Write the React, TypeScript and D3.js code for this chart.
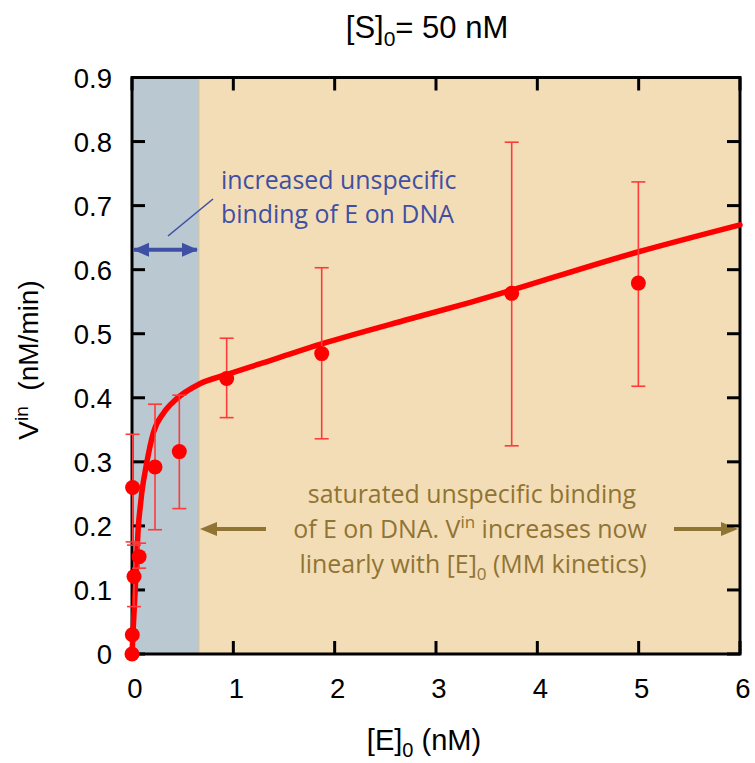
import React from 'react';
import * as d3 from 'd3';

const W = 755;
const H = 763;

const X_TICKS = [0, 1, 2, 3, 4, 5, 6];
const Y_TICKS = [0, 0.1, 0.2, 0.3, 0.4, 0.5, 0.6, 0.7, 0.8, 0.9];
const Y_TICK_LABELS = ['0', '0.1', '0.2', '0.3', '0.4', '0.5', '0.6', '0.7', '0.8', '0.9'];

// measured points
const E0 = [0, 0.003, 0.006, 0.02, 0.07, 0.227, 0.467, 0.934, 1.872, 3.747, 4.997];
const VIN = [0, 0.03, 0.26, 0.121, 0.152, 0.292, 0.316, 0.43, 0.469, 0.563, 0.579];
const ERR_LO = [null, null, 0.175, 0.074, 0.134, 0.194, 0.227, 0.369, 0.336, 0.325, 0.418];
const ERR_HI = [null, null, 0.343, 0.17, 0.173, 0.39, 0.404, 0.493, 0.603, 0.799, 0.737];

// fitted curve
const FIT_E = [0, 0.013, 0.03, 0.046, 0.063, 0.08, 0.096, 0.145, 0.21, 0.31, 0.43, 0.67, 0.93, 1.4, 1.87, 2.74, 3.34, 5.0, 6.0];
const FIT_V = [0, 0.043, 0.095, 0.147, 0.2, 0.228, 0.251, 0.298, 0.345, 0.376, 0.397, 0.422, 0.436, 0.46, 0.484, 0.523, 0.549, 0.628, 0.67];

const REGION_SPLIT = 0.661;
const ARROW_V = 0.631;

const ANN_FONT = '"Open Sans", "Noto Sans", sans-serif';
const AX_FONT = '"Liberation Sans", Arial, sans-serif';

export default function App() {
  const x = d3.scaleLinear().domain([0, 6]).range([132, 740]);
  const y = d3.scaleLinear().domain([0, 0.9]).range([654, 77.5]);
  const [x0, x1] = x.range();
  const [yb, yt] = y.range();

  const fitData = FIT_E.map((e, i) => [e, FIT_V[i]] as [number, number]);
  const line = d3
    .line<[number, number]>()
    .x((d) => x(d[0]))
    .y((d) => y(d[1]))
    .curve(d3.curveMonotoneX);

  const blue = '#3f4fa3';
  const brown = '#8f7434';
  const red = '#ff0000';
  const errRed = '#ff3a3a';
  const tick = 13;

  const ay = y(ARROW_V);
  const xs = x(REGION_SPLIT);

  const brownArrowY = 529;

  return (
    <svg width={W} height={H} style={{ position: 'absolute', left: 0, top: 0, background: '#fff' }}>
      {/* background regions */}
      <rect x={x0} y={yt} width={xs - x0} height={yb - yt} fill="#b9c8d1" />
      <rect x={xs} y={yt} width={x1 - xs} height={yb - yt} fill="#f3ddb6" />
      <line x1={xs} x2={xs} y1={yt} y2={yb} stroke="#d9c39a" strokeWidth={1} />

      {/* blue annotation */}
      <line x1={x0 + 2} x2={xs - 2} y1={ay} y2={ay} stroke={blue} strokeWidth={4} />
      <polygon points={`${x0 + 1},${ay} ${x0 + 17},${ay - 7} ${x0 + 17},${ay + 7}`} fill={blue} />
      <polygon points={`${xs - 1},${ay} ${xs - 17},${ay - 7} ${xs - 17},${ay + 7}`} fill={blue} />
      <line x1={168} y1={236} x2={213} y2={199} stroke={blue} strokeWidth={1.6} />
      <text x={221} y={189} fontFamily={ANN_FONT} fontSize={24.9} fill={blue}>
        increased unspecific
      </text>
      <text x={221} y={222.5} fontFamily={ANN_FONT} fontSize={24.9} fill={blue}>
        binding of E on DNA
      </text>

      {/* brown annotation */}
      <text x={472} y={503} textAnchor="middle" fontFamily={ANN_FONT} fontSize={24.9} fill={brown}>
        saturated unspecific binding
      </text>
      <text x={470} y={538} textAnchor="middle" fontFamily={ANN_FONT} fontSize={24.9} fill={brown}>
        of E on DNA. V
        <tspan dy={-10} fontSize={17}>in</tspan>
        <tspan dy={10}> increases now</tspan>
      </text>
      <text x={473} y={573} textAnchor="middle" fontFamily={ANN_FONT} fontSize={24.9} fill={brown}>
        linearly with [E]
        <tspan dy={7} fontSize={17}>0</tspan>
        <tspan dy={-7}> (MM kinetics)</tspan>
      </text>
      <line x1={xs + 12} x2={266} y1={brownArrowY} y2={brownArrowY} stroke={brown} strokeWidth={4} />
      <polygon
        points={`${xs + 1},${brownArrowY} ${xs + 18},${brownArrowY - 7} ${xs + 18},${brownArrowY + 7}`}
        fill={brown}
      />
      <line x1={674} x2={x1 - 12} y1={brownArrowY} y2={brownArrowY} stroke={brown} strokeWidth={4} />
      <polygon
        points={`${x1 - 2},${brownArrowY} ${x1 - 19},${brownArrowY - 7} ${x1 - 19},${brownArrowY + 7}`}
        fill={brown}
      />

      {/* frame and ticks */}
      <rect x={x0} y={yt} width={x1 - x0} height={yb - yt} fill="none" stroke="#000" strokeWidth={3} />
      {Y_TICKS.map((t) => (
        <g key={'y' + t}>
          <line x1={x0} x2={x0 + tick} y1={y(t)} y2={y(t)} stroke="#000" strokeWidth={3} />
          <line x1={x1} x2={x1 - tick} y1={y(t)} y2={y(t)} stroke="#000" strokeWidth={3} />
        </g>
      ))}
      {X_TICKS.map((t) => (
        <g key={'x' + t}>
          <line x1={x(t)} x2={x(t)} y1={yb} y2={yb - tick} stroke="#000" strokeWidth={3} />
          <line x1={x(t)} x2={x(t)} y1={yt} y2={yt + tick} stroke="#000" strokeWidth={3} />
        </g>
      ))}
      {Y_TICKS.map((t, i) => (
        <text
          key={'yl' + t}
          x={112}
          y={y(t) + 10}
          textAnchor="end"
          fontFamily={AX_FONT}
          fontSize={27.5}
          fill="#000"
        >
          {Y_TICK_LABELS[i]}
        </text>
      ))}
      {X_TICKS.map((t) => (
        <text
          key={'xl' + t}
          x={x(t) + 3}
          y={698}
          textAnchor="middle"
          fontFamily={AX_FONT}
          fontSize={27.5}
          fill="#000"
        >
          {String(t)}
        </text>
      ))}

      {/* fit curve */}
      <path d={line(fitData) || ''} fill="none" stroke={red} strokeWidth={5.5} strokeLinejoin="round" strokeLinecap="round" />

      {/* error bars */}
      {E0.map((e, i) => {
        const lo = ERR_LO[i];
        const hi = ERR_HI[i];
        if (lo == null || hi == null) return null;
        const cx = x(e);
        return (
          <g key={'eb' + i} stroke={errRed} strokeWidth={1.6}>
            <line x1={cx} x2={cx} y1={y(lo)} y2={y(hi)} />
            <line x1={cx - 7} x2={cx + 7} y1={y(lo)} y2={y(lo)} />
            <line x1={cx - 7} x2={cx + 7} y1={y(hi)} y2={y(hi)} />
          </g>
        );
      })}

      {/* markers */}
      {E0.map((e, i) => (
        <circle key={'pt' + i} cx={x(e)} cy={y(VIN[i])} r={7.5} fill={red} />
      ))}

      {/* title */}
      <text x={427} y={38} textAnchor="middle" fontFamily={AX_FONT} fontSize={31} fill="#000">
        [S]
        <tspan dy={8} fontSize={21}>0</tspan>
        <tspan dy={-8}>= 50 nM</tspan>
      </text>

      {/* x label */}
      <text x={424} y={750} textAnchor="middle" fontFamily={AX_FONT} fontSize={29} fill="#000">
        [E]
        <tspan dy={7} fontSize={20}>0</tspan>
        <tspan dy={-7}> (nM)</tspan>
      </text>

      {/* y label */}
      <text
        transform={`translate(38, 360) rotate(-90)`}
        textAnchor="middle"
        fontFamily={AX_FONT}
        fontSize={28}
        fill="#000"
      >
        V<tspan dy={-10} fontSize={19}>in</tspan>
        <tspan dy={10}>{'\u00a0 (nM/min)'}</tspan>
      </text>
    </svg>
  );
}
